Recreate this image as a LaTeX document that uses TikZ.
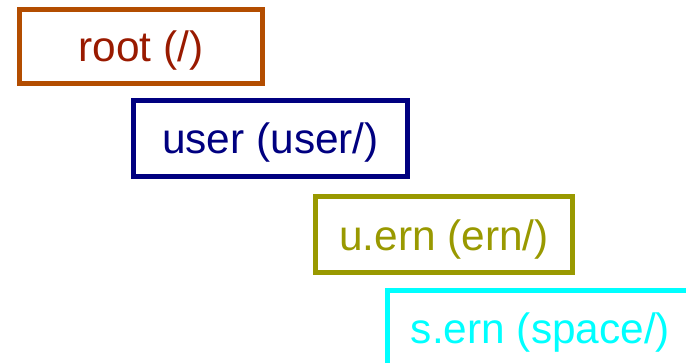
\documentclass[tikz,border=0pt]{standalone}
\usepackage{fontspec}
\setmainfont{Liberation Sans}
\definecolor{rootFrame}{RGB}{179,77,0}
\definecolor{rootText}{RGB}{153,26,0}
\definecolor{userCol}{RGB}{0,0,128}
\definecolor{ernCol}{RGB}{153,153,0}
\definecolor{spaceCol}{RGB}{0,255,255}
\begin{document}
\begin{tikzpicture}
[x=0.5pt,y=-0.5pt,
  boxDecorate/.style={shape=rectangle,draw,line width=2.5pt,inner sep=0pt,
    text depth=0pt,font=\fontsize{21.2}{25}\selectfont},
  scale=1]
\useasboundingbox (0,0) rectangle (686,363);
%% name boxes
\foreach \nodename/\x/\y/\w/\h/\framecol/\textcol/\label in {
  root/141/46.5/121.5pt/37pt/rootFrame/rootText/{root (/)},
  user/270.5/138.5/137pt/38pt/userCol/userCol/{user (user/)},
  uern/444/234.75/128.5pt/38.25pt/ernCol/ernCol/{u.ern (ern/)},
  sern/540.5/328.5/153pt/38pt/spaceCol/spaceCol/{s.ern (space/)}}
{
  \node (\nodename) at (\x,\y) [boxDecorate,draw=\framecol,text=\textcol,
    minimum width=\w,minimum height=\h] {\label};
}
\end{tikzpicture}
\end{document}
